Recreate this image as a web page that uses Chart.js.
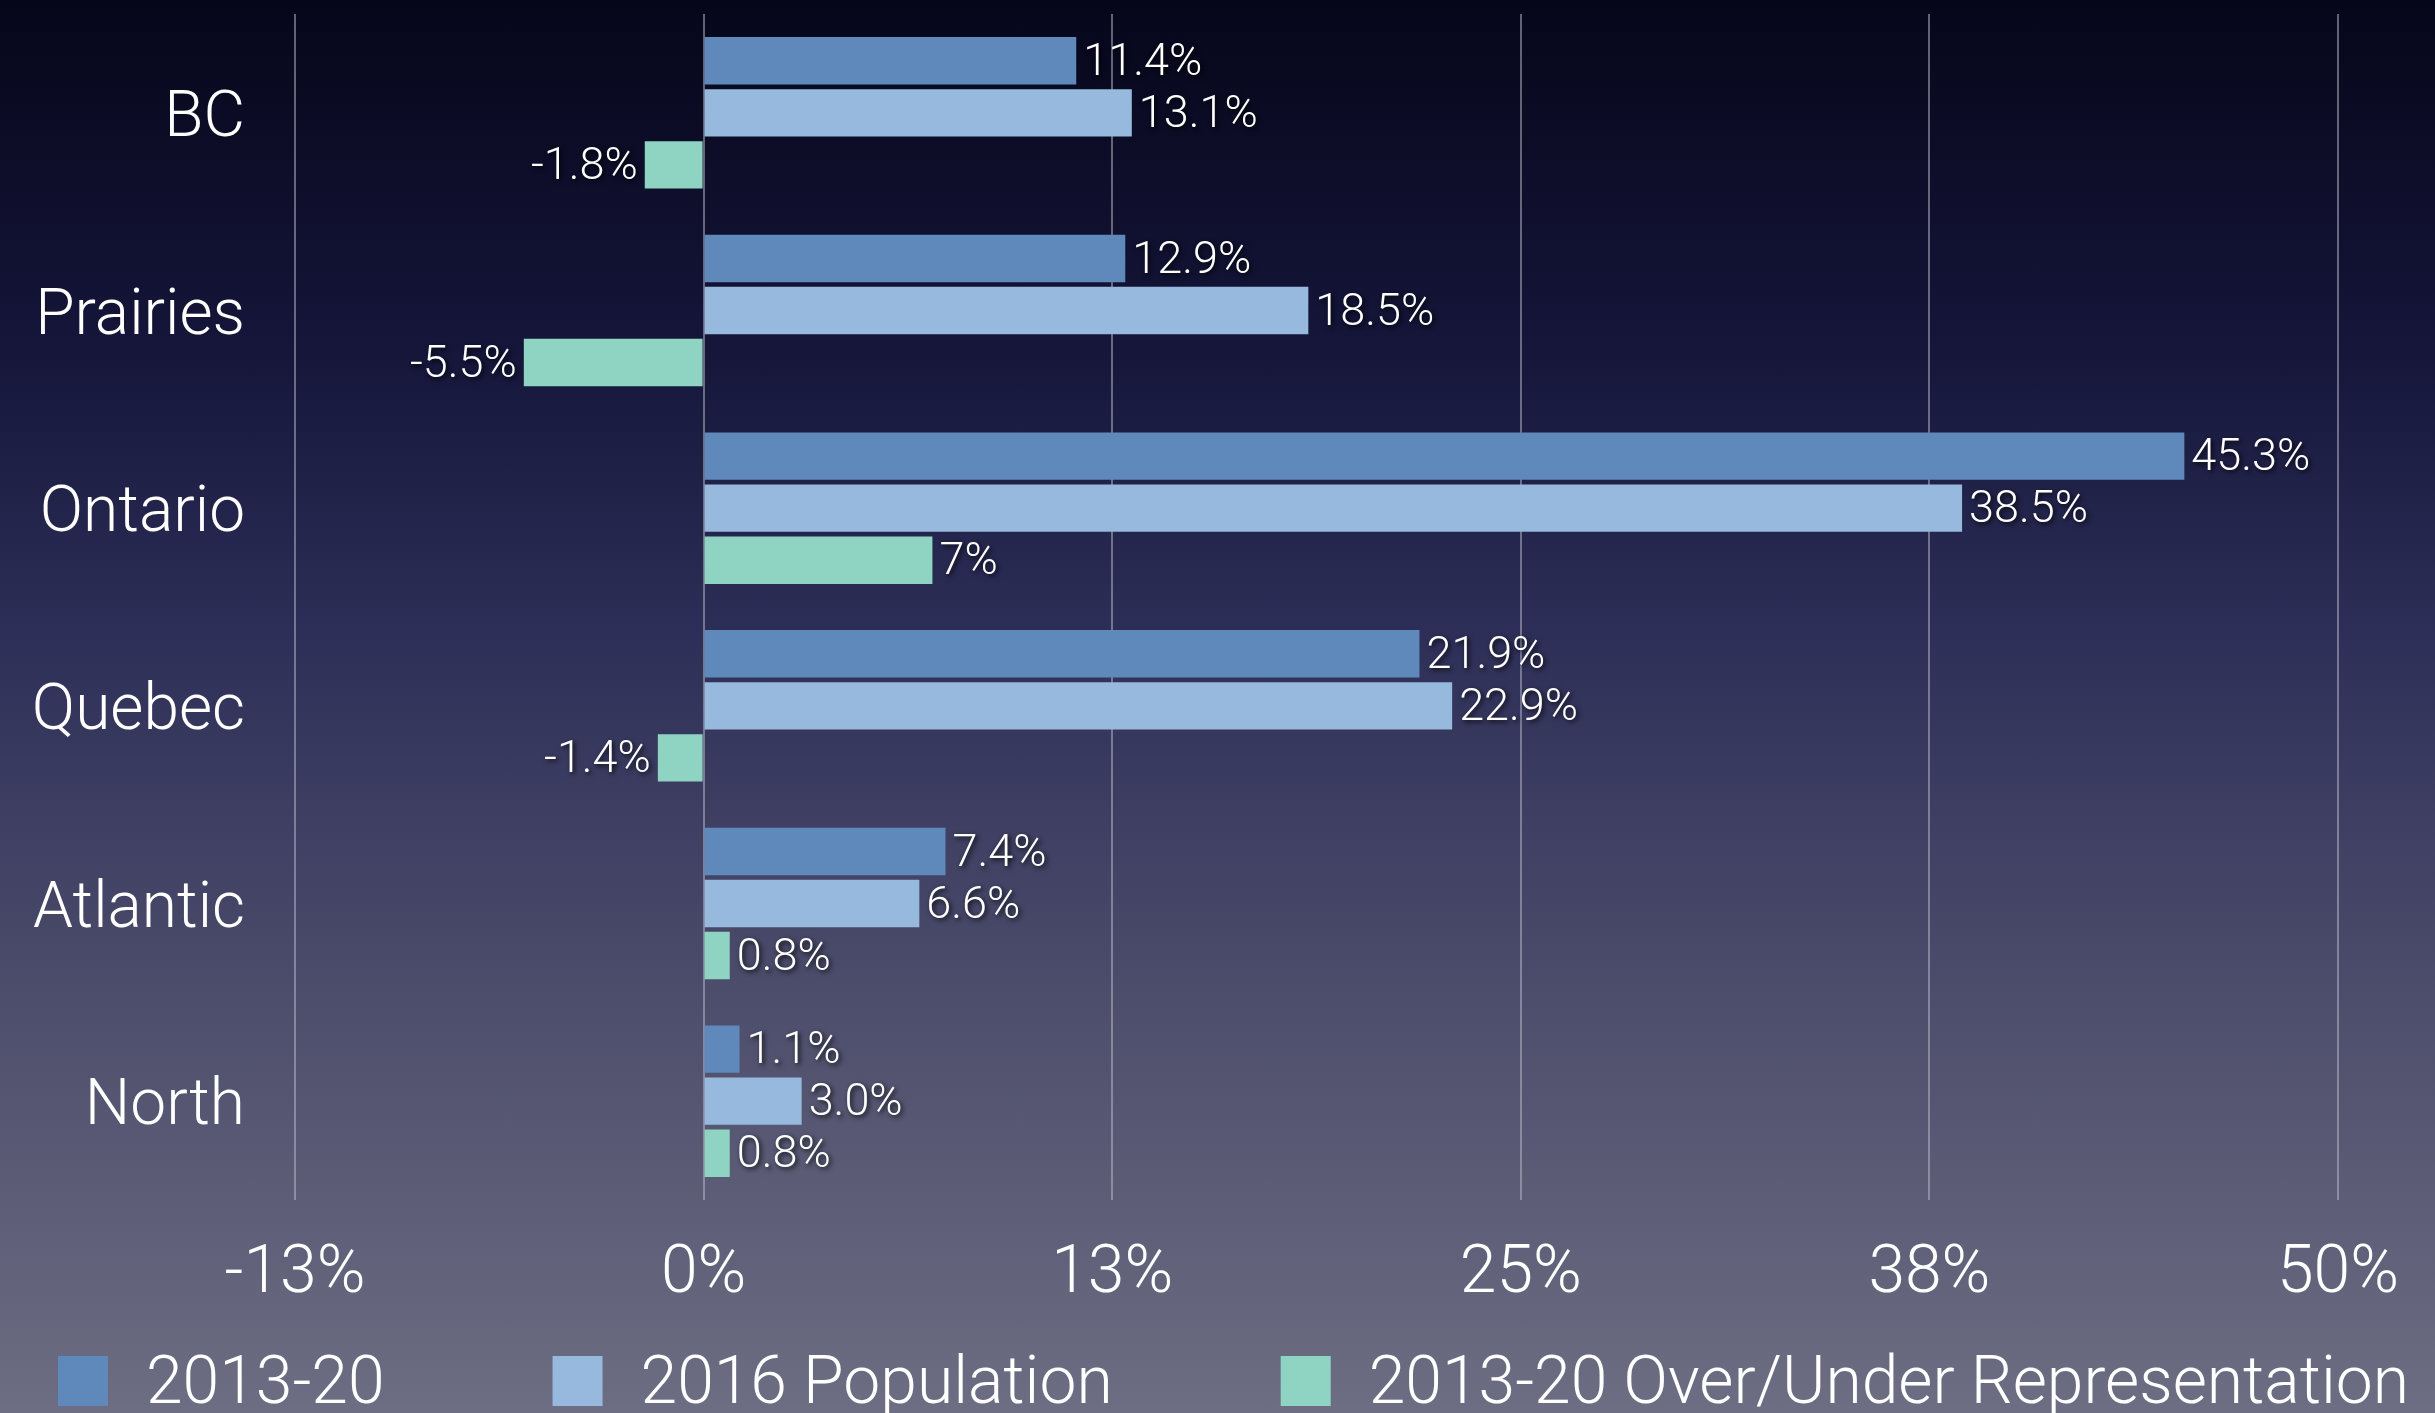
<!DOCTYPE html>
<html>
<head>
<meta charset="utf-8">
<script src="https://cdn.jsdelivr.net/npm/chart.js@4/dist/chart.umd.min.js"></script>
<style>
    html, body { margin: 0; padding: 0; }
    body {
        width: 2435px;
        height: 1413px;
        overflow: hidden;
        background: linear-gradient(to bottom, #06061a 0%, #15163a 25%, #2e2f58 45%, #4c4d6b 70%, #6d6d83 100%);
    }
    #wrap { position: relative; width: 2435px; height: 1413px; }
</style>
</head>
<body>
<div id="wrap"><canvas id="regionChart"></canvas></div>
<script>
// Данные графика
const regions = ['BC', 'Prairies', 'Ontario', 'Quebec', 'Atlantic', 'North'];
const share2013 = [11.4, 12.9, 45.3, 21.9, 7.4, 1.1];
const population2016 = [13.1, 18.5, 38.5, 22.9, 6.6, 3.0];
const overUnder = [-1.8, -5.5, 7, -1.4, 0.8, 0.8];
// подписи значений так, как они напечатаны на слайде
const share2013Labels = ['11.4%', '12.9%', '45.3%', '21.9%', '7.4%', '1.1%'];
const population2016Labels = ['13.1%', '18.5%', '38.5%', '22.9%', '6.6%', '3.0%'];
const overUnderLabels = ['-1.8%', '-5.5%', '7%', '-1.4%', '0.8%', '0.8%'];
const tickLabels = ['-13%', '0%', '13%', '25%', '38%', '50%'];

const FONT = 'Roboto, Lato, "Helvetica Neue", sans-serif';

// Подписи значений у концов столбцов
const valueLabels = {
    id: 'valueLabels',
    afterDatasetsDraw(chart) {
        const ctx = chart.ctx;
        ctx.save();
        ctx.font = '300 45px ' + FONT;
        ctx.fillStyle = '#ffffff';
        ctx.textBaseline = 'middle';
        ctx.shadowColor = 'rgba(0, 0, 0, 0.85)';
        ctx.shadowBlur = 5;
        ctx.shadowOffsetX = 2;
        ctx.shadowOffsetY = 2;
        chart.data.datasets.forEach((ds, di) => {
            const meta = chart.getDatasetMeta(di);
            meta.data.forEach((bar, i) => {
                const text = ds.valueLabels[i];
                if (ds.data[i] < 0) {
                    ctx.textAlign = 'right';
                    ctx.fillText(text, bar.x - 7, bar.y + 3);
                } else {
                    ctx.textAlign = 'left';
                    ctx.fillText(text, bar.x + 7, bar.y + 3);
                }
            });
        });
        ctx.restore();
    }
};

// Легенда внизу одной строкой (штатная легенда переносит третий пункт)
const bottomLegend = {
    id: 'bottomLegend',
    afterDraw(chart) {
        const ctx = chart.ctx;
        const box = 50, textGap = 38, itemGap = 168;
        ctx.save();
        ctx.font = '300 66px ' + FONT;
        const items = chart.data.datasets.map(ds => ({
            label: ds.label,
            color: ds.backgroundColor,
            w: ctx.measureText(ds.label).width
        }));
        const total = items.reduce((s, it) => s + box + textGap + it.w, 0) + itemGap * (items.length - 1);
        let x = (chart.width - total) / 2 + 16;
        const boxTop = chart.height - 57;
        ctx.textBaseline = 'middle';
        ctx.textAlign = 'left';
        items.forEach(it => {
            ctx.fillStyle = it.color;
            ctx.fillRect(x, boxTop, box, box);
            ctx.fillStyle = '#ffffff';
            ctx.fillText(it.label, x + box + textGap, boxTop + box / 2 + 5);
            x += box + textGap + it.w + itemGap;
        });
        ctx.restore();
    }
};

Chart.defaults.font.family = FONT;
Chart.defaults.font.weight = 300;
Chart.defaults.color = '#ffffff';

new Chart(document.getElementById('regionChart'), {
    type: 'bar',
    data: {
        labels: regions,
        datasets: [{
            label: '2013-20',
            data: share2013,
            valueLabels: share2013Labels,
            backgroundColor: '#5f88bb'
        }, {
            label: '2016 Population',
            data: population2016,
            valueLabels: population2016Labels,
            backgroundColor: '#96b9dd'
        }, {
            label: '2013-20 Over/Under Representation',
            data: overUnder,
            valueLabels: overUnderLabels,
            backgroundColor: '#8fd4c3'
        }]
    },
    options: {
        indexAxis: 'y',
        responsive: true,
        maintainAspectRatio: false,
        animation: false,
        categoryPercentage: 0.79,
        barPercentage: 0.91,
        layout: { padding: { top: 14, right: 95, left: 0, bottom: 0 } },
        scales: {
            x: {
                min: -12.5,
                max: 50,
                ticks: {
                    stepSize: 12.5,
                    padding: 36,
                    font: { size: 66, weight: 300 },
                    maxRotation: 0,
                    callback: (v, i) => tickLabels[i]
                },
                grid: {
                    color: 'rgba(190, 190, 205, 0.5)',
                    lineWidth: 2,
                    drawTicks: false
                },
                border: { display: false },
                afterFit(scale) { scale.height = 213; }
            },
            y: {
                ticks: {
                    padding: 50,
                    labelOffset: 7,
                    font: { size: 64, weight: 300 }
                },
                grid: { display: false, drawTicks: false },
                border: { display: false },
                afterFit(scale) {
                    scale.width = 295;
                    // не резервировать место над первой подписью
                    scale.paddingTop = 0;
                    scale.paddingBottom = 0;
                }
            }
        },
        plugins: {
            legend: { display: false },
            tooltip: { enabled: false }
        }
    },
    plugins: [valueLabels, bottomLegend]
});
</script>
</body>
</html>
